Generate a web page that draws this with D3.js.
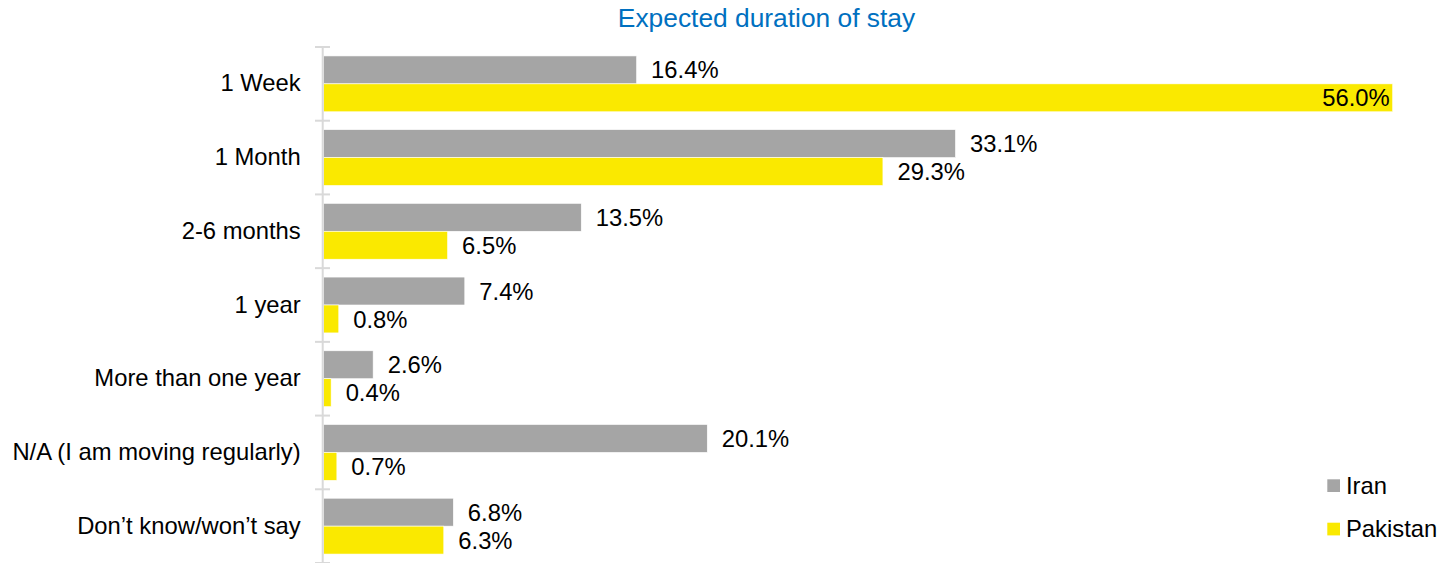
<!DOCTYPE html>
<html>
<head>
<meta charset="utf-8">
<script src="https://cdn.jsdelivr.net/npm/d3@7"></script>
<style>
  html, body { margin: 0; padding: 0; background: #fff; }
  svg { display: block; font-family: "Liberation Sans", Arial, sans-serif; }
</style>
</head>
<body>
<svg id="chart" width="1453" height="563"></svg>
<script>
const categories = ["1 Week", "1 Month", "2-6 months", "1 year", "More than one year", "N/A (I am moving regularly)", "Don\u2019t know/won\u2019t say"];
const seriesNames = ["Iran", "Pakistan"];
const iranValues = [16.4, 33.1, 13.5, 7.4, 2.6, 20.1, 6.8];
const pakistanValues = [56.0, 29.3, 6.5, 0.8, 0.4, 0.7, 6.3];
const seriesColors = ["#A5A5A5", "#FAE900"];
const title = "Expected duration of stay";

const svg = d3.select("#chart");
const xMax = 56;
const fs = 23.8;
const x = d3.scaleLinear().domain([0, xMax]).range([323.5, 1392.7]);
const y = d3.scaleBand().domain(categories).range([47, 563]).paddingInner(0).paddingOuter(0);
const inner = d3.scaleBand().domain(seriesNames).range([0, y.bandwidth()]).paddingInner(0).paddingOuter(0.32);

const seriesData = [iranValues, pakistanValues];

// title
svg.append("text")
  .attr("x", 766.5).attr("y", 27)
  .attr("text-anchor", "middle")
  .attr("font-size", 26.35)
  .attr("fill", "#0070C0")
  .text(title);

// bars
seriesNames.forEach((s, si) => {
  const g = svg.append("g");
  g.selectAll("rect").data(categories).join("rect")
    .attr("x", x(0))
    .attr("y", c => y(c) + inner(s))
    .attr("width", (c, i) => x(seriesData[si][i]) - x(0))
    .attr("height", inner.bandwidth())
    .attr("fill", seriesColors[si])
    .attr("stroke", "#ffffff").attr("stroke-width", 0.6);

  g.selectAll("text").data(categories).join("text")
    .attr("x", (c, i) => {
      const v = seriesData[si][i];
      return v >= xMax ? x(v) - 3 : x(v) + 14.5;
    })
    .attr("y", c => y(c) + inner(s) + inner.bandwidth() / 2)
    .attr("dy", "0.36em")
    .attr("text-anchor", (c, i) => seriesData[si][i] >= xMax ? "end" : "start")
    .attr("font-size", fs)
    .attr("fill", "#000")
    .text((c, i) => seriesData[si][i].toFixed(1) + "%");
});

// y axis
const yAxis = d3.axisLeft(y).tickSize(0).tickPadding(22);
const ax = svg.append("g").attr("transform", "translate(322.7,0)").call(yAxis);
ax.select(".domain").remove();
ax.selectAll("text").attr("font-size", fs).attr("fill", "#000").attr("font-family", "Liberation Sans, Arial, sans-serif");

// axis line and tick marks
svg.append("line")
  .attr("x1", 322.7).attr("x2", 322.7).attr("y1", 47).attr("y2", 563)
  .attr("stroke", "#D9D9D9").attr("stroke-width", 2);
const tickYs = categories.map(c => y(c)).concat([y.range()[1]]);
svg.selectAll(".tk").data(tickYs).join("line").attr("class", "tk")
  .attr("x1", 315).attr("x2", 330)
  .attr("y1", d => d).attr("y2", d => d)
  .attr("stroke", "#D9D9D9").attr("stroke-width", 2);

// legend
const legend = svg.append("g");
seriesNames.forEach((s, i) => {
  const ly = 479.3 + i * 43.4;
  legend.append("rect").attr("x", 1327.3).attr("y", ly).attr("width", 12.7).attr("height", 12.7).attr("fill", seriesColors[i]);
  legend.append("text").attr("x", 1346).attr("y", ly + 14.7).attr("font-size", fs).attr("fill", "#000").text(s);
});
</script>
</body>
</html>
